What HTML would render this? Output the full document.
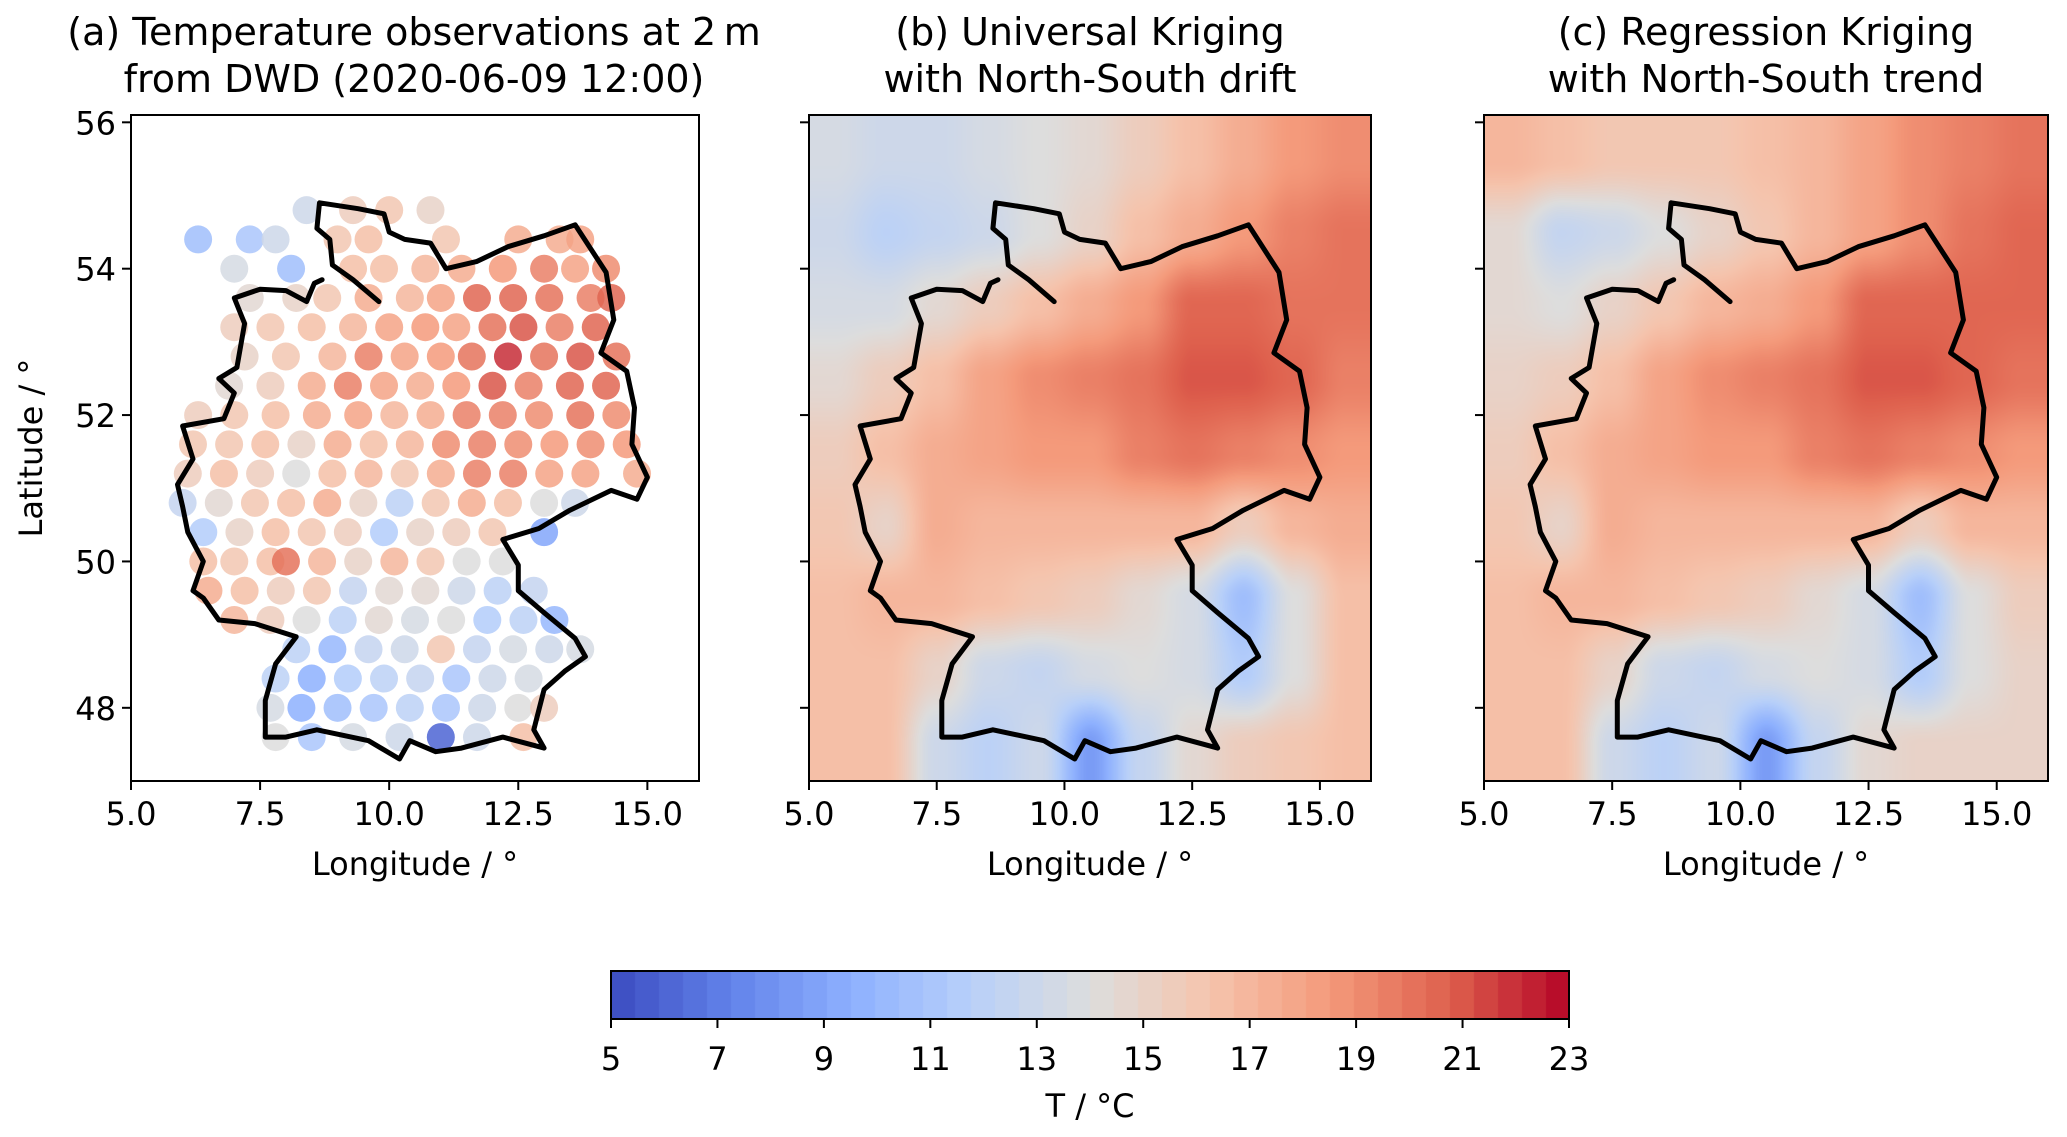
<!DOCTYPE html>
<html><head><meta charset="utf-8">
<style>
body{margin:0;background:#fff;}
#wrap{position:relative;width:2067px;height:1137px;overflow:hidden;background:#fff;font-family:"DejaVu Sans","Liberation Sans",sans-serif;}
canvas{position:absolute;}
svg{position:absolute;left:0;top:0;}
</style></head>
<body>
<div id="wrap">
<canvas id="cb"></canvas>
<canvas id="cc"></canvas>
<canvas id="cbar"></canvas>
<svg id="svg" width="2067" height="1137"></svg>
</div>
<script>
// ---- data ----
const xTicks=[5,7.5,10,12.5,15];
const xTickLabels=["5.0","7.5","10.0","12.5","15.0"];
const yTicks=[48,50,52,54,56];
const yTickLabels=["48","50","52","54","56"];
const cbTicks=[5,7,9,11,13,15,17,19,21,23];
// station rows: latitude, then lon:temp pairs
const stLat=[54.8,54.4,54.0,53.6,53.2,52.8,52.4,52.0,51.6,51.2,50.8,50.4,50.0,49.6,49.2,48.8,48.4,48.0,47.6];
const stLon=[
[8.4,9.3,10.0,10.8],
[6.3,7.3,7.8,9.0,9.6,11.1,12.5,13.3,13.7],
[8.1,7.0,9.3,9.9,10.7,11.4,12.2,13.0,13.6,14.2],
[7.3,8.2,8.8,9.6,10.4,11.0,11.7,12.4,13.1,13.9,14.3],
[7.0,7.7,8.5,9.3,10.0,10.7,11.3,12.0,12.6,13.3,14.0],
[7.2,8.0,8.9,9.6,10.3,11.0,11.6,12.3,13.0,13.7,14.4],
[6.9,7.7,8.5,9.2,9.9,10.6,11.3,12.0,12.7,13.5,14.2],
[6.3,7.0,7.8,8.6,9.4,10.1,10.8,11.5,12.2,12.9,13.7,14.4],
[6.2,6.9,7.6,8.3,9.0,9.7,10.4,11.1,11.8,12.5,13.2,13.9,14.6],
[6.1,6.8,7.5,8.2,8.9,9.6,10.3,11.0,11.7,12.4,13.1,13.8,14.8],
[6.0,6.7,7.4,8.1,8.8,9.5,10.2,10.9,11.6,12.3,13.0,13.6],
[6.4,7.1,7.8,8.5,9.2,9.9,10.6,11.3,12.0,13.0],
[6.4,7.0,7.7,8.0,8.7,9.4,10.1,10.8,11.5,12.2],
[6.5,7.2,7.9,8.6,9.3,10.0,10.7,11.4,12.1,12.8],
[7.0,7.7,8.4,9.1,9.8,10.5,11.2,11.9,12.6,13.2],
[8.2,8.9,9.6,10.3,11.0,11.7,12.4,13.1,13.7],
[7.8,8.5,9.2,9.9,10.6,11.3,12.0,12.7],
[7.7,8.3,9.0,9.7,10.4,11.1,11.8,12.5,13.0],
[7.8,8.5,9.3,10.2,11.0,11.7,12.6]];
const stT=[
[13,15.5,16,15],
[10.5,11,13,16,16.5,16,17.5,17.5,18],
[10.5,13.5,16.5,16.5,17,17.5,18.5,19.5,18,19],
[14.5,15,16,17.5,17,18,20.5,20.5,20,19.5,20.5],
[15.5,16,16.5,17,18,18.5,18,20,21,19.5,20.5],
[15,16,17,19.5,18,18.5,20,22,20,21,20],
[14.5,15.5,17.5,19.5,18,17.5,18.5,21,19.5,20.5,20.5],
[15.5,16,16.5,17.5,18,17,17.5,19.5,19.5,19,20,19],
[16,16,16.5,15,17.5,16.5,17,19,19.5,19,18.5,19,18.5],
[15.5,16.5,15.5,14,16.5,17,16,17.5,19.5,19.5,18,18,17.5],
[12.5,14.5,16,16.5,17.5,15,12,16,17.5,16.5,14,13],
[11.5,15,16.5,16,15.5,11.5,15,15.5,16,9],
[16.5,16,16.5,20,17,15,17,16,14,14],
[17.5,16.5,15.5,16,12.5,14.5,14.5,13,12,12.5],
[17,15.5,14,12,14.5,13.5,14,11.5,12,10],
[12,10,12.5,13,16,12.5,13.5,13,13.5],
[12,9.5,11.5,12,12.5,11,13,13.5],
[13.5,9.5,10.5,11,12,11,13,14,15.5],
[14,11,13.5,13,6,13,16.5]];
// kriged grids: rows lat 55.5 -> 47.5, cols lon 5.5 -> 15.5
const gridLat=[55.5,54.5,53.5,52.5,51.5,50.5,49.5,48.5,47.5];
const gridLon=[5.5,6.5,7.5,8.5,9.5,10.5,11.5,12.5,13.5,14.5,15.5];
const fieldB=[
[13.5,13,13,13.5,14,14.5,15.5,16.5,17.5,18.5,19],
[13,12,12.5,13,14,15,16.5,17.5,18.5,19.5,20],
[13.5,13.5,14.5,15.5,16.5,17.5,18.5,20.5,20.5,20,20],
[14.5,15.5,16.5,18,19,19.5,20,21,21,20.5,19.5],
[15.5,16.5,17.5,18,18.5,18.5,19.5,20,19.5,19,18.5],
[16,15,17.5,17,17,17,17,17,15.5,17,17.5],
[16.5,17,17,16.5,16,15.5,14.5,13.5,10.5,14,16.5],
[16.5,16.5,15,13,12.5,13.5,14,13.5,11.5,14,16.5],
[16.5,16.5,13,12,13,8.5,12.5,14.5,15.5,16,16.5]];
const fieldC=[
[17,16.5,16,16,16,16.5,17,18,19,19.5,20],
[14.5,12.5,13,14,15,16,17,18,19,20,20.5],
[14.5,14,15,16,17,17.5,18.5,20.5,20.5,20.5,20.5],
[15,15.5,16.5,18,19,19.5,20,21,21,20.5,20],
[15.5,16.5,17.5,18,18.5,18.5,19.5,20,19.5,19,18.5],
[16,15,17.5,17,17,17,17,17,15.5,17,17],
[16.5,17,17,16.5,16,15.5,14.5,13.5,10.5,14,15.5],
[16.5,16.5,15,13,12.5,13.5,14,13.5,11.5,14,15],
[16.5,16.5,13,12,13,8.5,12.5,14.5,15,15,15]];
const border=[[9.8,53.55],[9.3,53.85],[8.9,54.05],[8.85,54.4],[8.6,54.55],[8.65,54.9],[9.4,54.82],[9.9,54.75],[10.0,54.5],[10.3,54.4],[10.8,54.35],[11.1,54.0],[11.7,54.1],[12.3,54.3],[13.0,54.45],[13.6,54.6],[14.2,53.95],[14.35,53.3],[14.1,52.85],[14.6,52.6],[14.75,52.1],[14.7,51.6],[15.0,51.15],[14.8,50.85],[14.3,50.97],[13.5,50.7],[12.9,50.45],[12.2,50.3],[12.5,49.95],[12.5,49.6],[13.0,49.3],[13.6,48.95],[13.8,48.7],[13.4,48.5],[13.0,48.25],[12.8,47.7],[13.0,47.45],[12.2,47.6],[11.4,47.45],[10.9,47.4],[10.4,47.55],[10.2,47.3],[9.6,47.55],[8.6,47.7],[8.0,47.6],[7.6,47.6],[7.6,48.1],[7.8,48.6],[8.2,48.97],[7.4,49.15],[6.7,49.2],[6.4,49.5],[6.2,49.6],[6.4,50.0],[6.1,50.4],[6.0,50.75],[5.9,51.05],[6.2,51.4],[6.0,51.85],[6.8,51.95],[7.0,52.3],[6.7,52.5],[7.05,52.65],[7.2,53.25],[7.0,53.6],[7.5,53.72],[8.0,53.7],[8.4,53.55],[8.55,53.8],[8.7,53.85]];

// ---- layout ----
const panels=[{x0:131,x1:699},{x0:809,x1:1371},{x0:1484,x1:2048}];
const yTop=115,yBot=781,lonMin=5,lonMax=16,latMin=47,latMax=56.1;
function sx(p,lon){return p.x0+(lon-lonMin)/(lonMax-lonMin)*(p.x1-p.x0);}
function sy(lat){return yBot-(lat-latMin)/(latMax-latMin)*(yBot-yTop);}
const cbL=611,cbR=1569,cbT=971,cbB=1019,vMin=5,vMax=23;
function cbx(v){return cbL+(v-vMin)/(vMax-vMin)*(cbR-cbL);}
const cmap=[[59,76,192],[98,130,234],[141,176,254],[184,208,249],[221,221,221],[245,196,173],[244,154,123],[222,96,77],[180,4,38]];
function col(v){let t=Math.max(0,Math.min(1,(v-vMin)/(vMax-vMin)))*8;let i=Math.min(7,Math.floor(t)),f=t-i;const a=cmap[i],b=cmap[i+1];return [0,1,2].map(k=>Math.round(a[k]+(b[k]-a[k])*f));}
function cstr(v){const c=col(v);return `rgb(${c[0]},${c[1]},${c[2]})`;}

// ---- fields ----
function sample(g,lon,lat){
  let fx=(lon-gridLon[0]),fy=(gridLat[0]-lat);
  fx=Math.max(0,Math.min(gridLon.length-1.0001,fx));fy=Math.max(0,Math.min(gridLat.length-1.0001,fy));
  const i=Math.floor(fx),j=Math.floor(fy),u=fx-i,w=fy-j;
  const s=u*u*(3-2*u),r=w*w*(3-2*w);
  return g[j][i]*(1-s)*(1-r)+g[j][i+1]*s*(1-r)+g[j+1][i]*(1-s)*r+g[j+1][i+1]*s*r;
}
function drawField(id,p,g){
  const cv=document.getElementById(id);const W=p.x1-p.x0,H=yBot-yTop;
  cv.width=W;cv.height=H;cv.style.left=p.x0+'px';cv.style.top=yTop+'px';
  const ctx=cv.getContext('2d');const img=ctx.createImageData(W,H);
  for(let y=0;y<H;y++)for(let x=0;x<W;x++){
    const lon=lonMin+x/W*(lonMax-lonMin),lat=latMax-y/H*(latMax-latMin);
    const c=col(sample(g,lon,lat));const o=(y*W+x)*4;
    img.data[o]=c[0];img.data[o+1]=c[1];img.data[o+2]=c[2];img.data[o+3]=255;}
  ctx.putImageData(img,0,0);
}
drawField('cb',panels[1],fieldB);drawField('cc',panels[2],fieldC);
(function(){const cv=document.getElementById('cbar');cv.width=cbR-cbL;cv.height=cbB-cbT;cv.style.left=cbL+'px';cv.style.top=cbT+'px';
const ctx=cv.getContext('2d');for(let x=0;x<cv.width;x++){const v=vMin+(Math.floor((x/cv.width)*40)+0.5)/40*(vMax-vMin);ctx.fillStyle=cstr(v);ctx.fillRect(x,0,1,cv.height);}})();

// ---- svg ----
const NS='http://www.w3.org/2000/svg';const svg=document.getElementById('svg');
function mk(tag,at,parent){const e=document.createElementNS(NS,tag);for(const k in at)e.setAttribute(k,at[k]);(parent||svg).appendChild(e);return e;}
function txt(s,x,y,size,anchor,name,rot){const t=mk('text',{x:x,y:y,'font-size':size,'text-anchor':anchor||'middle','font-family':'DejaVu Sans, Liberation Sans, sans-serif',fill:'#000'});if(rot)t.setAttribute('transform',`rotate(-90 ${x} ${y})`);t.textContent=s;

return t;}

// stations
const pa=panels[0];
const clip=mk('clipPath',{id:'clipA'});mk('rect',{x:pa.x0,y:yTop,width:pa.x1-pa.x0,height:yBot-yTop},clip);
const gS=mk('g',{'clip-path':'url(#clipA)'});


for(let r=0;r<stLat.length;r++)for(let k=0;k<stLon[r].length;k++){
  const c=mk('circle',{cx:sx(pa,stLon[r][k]),cy:sy(stLat[r]),r:14,fill:cstr(stT[r][k]),'fill-opacity':0.85},gS);
  
  
}
const titles=[["(a) Temperature observations at 2\u2009m","from DWD (2020-06-09 12:00)"],["(b) Universal Kriging","with North-South drift"],["(c) Regression Kriging","with North-South trend"]];
panels.forEach((p,i)=>{
  const pts=border.map(b=>sx(p,b[0]).toFixed(1)+','+sy(b[1]).toFixed(1)).join(' ');
  const pl=mk('polyline',{points:pts,fill:'none',stroke:'#000','stroke-width':5,'stroke-linejoin':'round','stroke-linecap':'round'});
  
  
  const fr=mk('rect',{x:p.x0,y:yTop,width:p.x1-p.x0,height:yBot-yTop,fill:'none',stroke:'#000','stroke-width':2});
  
  
  xTicks.forEach((v,k)=>{const x=sx(p,v);mk('line',{x1:x,x2:x,y1:yBot,y2:yBot+9,stroke:'#000','stroke-width':2});txt(xTickLabels[k],x,yBot+44,32,'middle','x-tick-label');});
  yTicks.forEach((v,k)=>{const y=sy(v);mk('line',{x1:p.x0-9,x2:p.x0,y1:y,y2:y,stroke:'#000','stroke-width':2});if(i==0)txt(yTickLabels[k],p.x0-15,y+12,32,'end','y-tick-label');});
  txt('Longitude / \u00b0',(p.x0+p.x1)/2,yBot+94,32,'middle','x-axis-title');
  const cx=(p.x0+p.x1)/2+(i==0?-1:0);
  txt(titles[i][0],cx,45,38,'middle','panel-title');
  txt(titles[i][1],cx,92,38,'middle','panel-title');
});
txt('Latitude / \u00b0',42,448,32,'middle','y-axis-title',true);
// colorbar
const cbf=mk('rect',{x:cbL,y:cbT,width:cbR-cbL,height:cbB-cbT,fill:'none',stroke:'#000','stroke-width':2});


cbTicks.forEach(v=>{const x=cbx(v);mk('line',{x1:x,x2:x,y1:cbB,y2:cbB+9,stroke:'#000','stroke-width':2});txt(String(v),x,1070,32,'middle','colorbar-tick-label');});
txt('T / \u00b0C',(cbL+cbR)/2,1117,32,'middle','colorbar-title');
</script>
</body></html>
